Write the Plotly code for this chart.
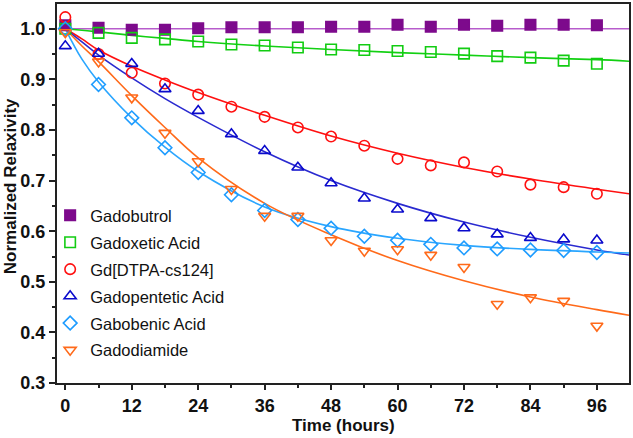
import plotly.graph_objects as go

# measurement times (hours)
hours = [0, 6, 12, 18, 24, 30, 36, 42, 48, 54, 60, 66, 72, 78, 84, 90, 96]

gadobutrol = [1.007, 1.002, 0.998, 0.998, 1.001, 1.003, 1.003, 1.003, 1.004,
              1.004, 1.008, 1.004, 1.008, 1.006, 1.008, 1.008, 1.007]
gadoxetic = [1.000, 0.992, 0.982, 0.979, 0.975, 0.969, 0.967, 0.963, 0.959,
             0.958, 0.956, 0.954, 0.951, 0.946, 0.943, 0.937, 0.931]
gd_dtpa = [1.023, 0.950, 0.913, 0.892, 0.870, 0.846, 0.826, 0.805, 0.787,
           0.769, 0.743, 0.730, 0.736, 0.718, 0.692, 0.687, 0.674]
gadopentetic = [0.966, 0.951, 0.931, 0.881, 0.838, 0.792, 0.759, 0.726, 0.695,
                0.665, 0.643, 0.626, 0.606, 0.594, 0.587, 0.584, 0.582]
gabobenic = [1.000, 0.890, 0.824, 0.765, 0.716, 0.672, 0.641, 0.623, 0.606,
             0.590, 0.582, 0.574, 0.567, 0.565, 0.563, 0.562, 0.558]
gadodiamide = [0.993, 0.935, 0.864, 0.794, 0.738, 0.683, 0.630, 0.630, 0.582,
               0.561, 0.564, 0.553, 0.529, 0.456, 0.469, 0.462, 0.413]

# fitted curves
fit_hours = [0, 3, 6, 12, 18, 24, 36, 48, 60, 72, 84, 96, 101.8]
gadobutrol_fit = [1.000, 1.000, 1.000, 1.000, 1.000, 1.000, 1.000,
                  1.000, 1.000, 1.000, 1.000, 1.000, 1.000]
gadoxetic_fit = [1.000, 0.997, 0.994, 0.987, 0.981, 0.975, 0.966,
                 0.959, 0.953, 0.948, 0.943, 0.939, 0.936]
gd_dtpa_fit = [1.000, 0.980, 0.958, 0.926, 0.899, 0.874, 0.829,
               0.788, 0.754, 0.726, 0.703, 0.683, 0.674]
gadopentetic_fit = [1.000, 0.974, 0.948, 0.903, 0.862, 0.825, 0.757,
                    0.700, 0.655, 0.618, 0.588, 0.563, 0.553]
gabobenic_fit = [1.000, 0.940, 0.895, 0.824, 0.766, 0.718, 0.648,
                 0.609, 0.586, 0.572, 0.564, 0.559, 0.557]
gadodiamide_fit = [1.000, 0.966, 0.935, 0.868, 0.805, 0.745, 0.655,
                   0.593, 0.542, 0.502, 0.470, 0.445, 0.434]

series = [
    ("Gadobutrol", gadobutrol, gadobutrol_fit, "square", "#7d0a8c", "#b75ccc"),
    ("Gadoxetic Acid", gadoxetic, gadoxetic_fit, "square-open", "#12cc12", "#12d012"),
    ("Gd[DTPA-cs124]", gd_dtpa, gd_dtpa_fit, "circle-open", "#ff1010", "#ff1010"),
    ("Gadopentetic Acid", gadopentetic, gadopentetic_fit, "triangle-up-open", "#0a0acc", "#2a2ad0"),
    ("Gabobenic Acid", gabobenic, gabobenic_fit, "diamond-open", "#1e9cff", "#2aa6ff"),
    ("Gadodiamide", gadodiamide, gadodiamide_fit, "triangle-down-open", "#ff6a1a", "#ff6a1a"),
]

fig = go.Figure()

for name, vals, fit, symbol, mcolor, lcolor in series:
    fig.add_trace(go.Scatter(
        x=fit_hours, y=fit, mode="lines", line=dict(color=lcolor, width=1.6, shape="spline"),
        legendgroup=name, showlegend=False, hoverinfo="skip"))

for name, vals, fit, symbol, mcolor, lcolor in series:
    fig.add_trace(go.Scatter(
        x=hours, y=vals, mode="markers", name=name, legendgroup=name,
        marker=dict(symbol=symbol, size=10.5, color=mcolor,
                    line=dict(color=mcolor, width=1.6))))

tick_font = dict(family="Liberation Sans, Arial", size=18, color="#111", weight="bold")
title_font = dict(family="Liberation Sans, Arial", size=17, color="#111", weight="bold")

fig.update_layout(
    width=633, height=438,
    margin=dict(l=57, r=2, t=2, b=55),
    paper_bgcolor="white", plot_bgcolor="white",
    font=dict(family="Liberation Sans, Arial", color="#111"),
    showlegend=True,
    legend=dict(x=-0.012, y=0.488, xanchor="left", yanchor="top",
                bgcolor="rgba(0,0,0,0)", tracegroupgap=2.5,
                font=dict(size=16.5, color="#111")),
    xaxis=dict(
        range=[-1.5, 101.8], tickvals=[0, 12, 24, 36, 48, 60, 72, 84, 96],
        tickfont=tick_font, showgrid=False, zeroline=False,
        showline=True, linecolor="#222", linewidth=2, mirror=True,
        ticks="outside", ticklen=5, tickwidth=1.5, tickcolor="#222",
        minor=dict(dtick=6, tick0=0, ticks="outside", ticklen=3, tickcolor="#222", tickwidth=1.5)),
    yaxis=dict(
        range=[0.3, 1.049], dtick=0.1, tick0=0.3, tickformat=".1f",
        tickfont=tick_font, showgrid=False, zeroline=False,
        showline=True, linecolor="#222", linewidth=2, mirror=True,
        ticks="outside", ticklen=6, tickwidth=1.5, tickcolor="#222",
        minor=dict(dtick=0.05, tick0=0.3, ticks="outside", ticklen=3, tickcolor="#222", tickwidth=1.5)),
    annotations=[
        dict(text="Time (hours)", xref="paper", yref="paper", x=0.5, y=-0.112,
             xanchor="center", yanchor="middle", showarrow=False, font=title_font),
        dict(text="Normalized Relaxivity", xref="paper", yref="paper", x=-0.08, y=0.52,
             xanchor="center", yanchor="middle", textangle=-90, showarrow=False, font=title_font),
    ],
)

# drop the page's default body margin so the figure sits at the window's corner
fig.write_html("out.html", config={"displayModeBar": False},
               post_script="document.body.style.margin = '0';")
